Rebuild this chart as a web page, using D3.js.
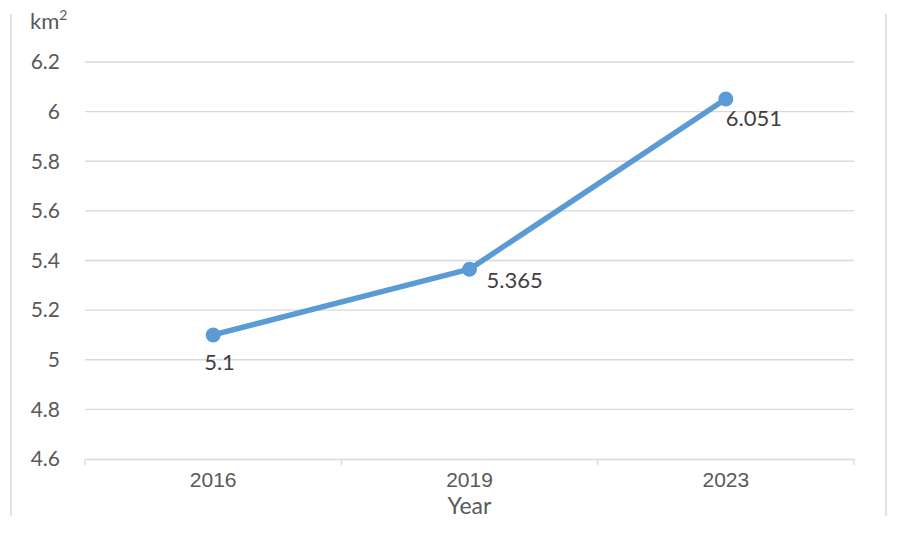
<!DOCTYPE html>
<html><head><meta charset="utf-8">
<script src="https://cdn.jsdelivr.net/npm/d3@7"></script>
<style>body{margin:0;background:#fff;}svg{display:block;font-family:Lato,"Open Sans",sans-serif;}</style>
</head><body>
<svg id="c" width="906" height="537"></svg>
<script>
const years = ["2016", "2019", "2023"];
const areas = [5.1, 5.365, 6.051];
const yTicks = [4.6, 4.8, 5, 5.2, 5.4, 5.6, 5.8, 6, 6.2];
const yUnit = "km";
const xTitle = "Year";

(function () {
const svg = d3.select("#c");
const mL = 85, mR = 854, mT = 62, mB = 459;
const x = d3.scaleBand().domain(years).range([mL, mR]);
const y = d3.scaleLinear().domain([4.6, 6.2]).range([mB, mT]);
const txt = "#595959";

// frame side lines
svg.append("line").attr("x1", 11).attr("x2", 11).attr("y1", 14).attr("y2", 516).attr("stroke", "#d9d9d9").attr("stroke-width", 1.5);
svg.append("line").attr("x1", 886).attr("x2", 886).attr("y1", 14).attr("y2", 516).attr("stroke", "#d9d9d9").attr("stroke-width", 1.5);

// gridlines
svg.append("g").selectAll("line").data(yTicks.slice(1)).join("line")
  .attr("x1", mL).attr("x2", mR)
  .attr("y1", d => y(d)).attr("y2", d => y(d))
  .attr("stroke", "#d9d9d9").attr("stroke-width", 1.3);

// y labels
svg.append("g").selectAll("text").data(yTicks).join("text")
  .attr("x", 60).attr("y", d => y(d)).attr("dy", "0.35em")
  .attr("text-anchor", "end").attr("font-size", 21).attr("fill", txt)
  .text(d => d3.format("~g")(d));

// unit
const u = svg.append("text").attr("x", 30).attr("y", 29).attr("font-size", 22).attr("fill", txt);
u.append("tspan").text(yUnit);
u.append("tspan").attr("dy", -9).attr("font-size", 14).text("2");

// x axis
const xAxis = d3.axisBottom(x).tickSize(0).tickPadding(13);
const gx = svg.append("g").attr("transform", `translate(0,${mB})`).call(xAxis);
gx.select(".domain").attr("stroke", "#d9d9d9").attr("stroke-width", 1.3);
gx.selectAll("text").attr("font-size", 21).attr("fill", txt).attr("font-family", null);
const bounds = years.map(d => x(d)).concat([mR]);
gx.selectAll(".sep").data(bounds).join("line").attr("class", "sep")
  .attr("x1", d => d).attr("x2", d => d).attr("y1", 0).attr("y2", 6)
  .attr("stroke", "#d9d9d9").attr("stroke-width", 1.3);

svg.append("text").attr("x", (mL + mR) / 2).attr("y", 514)
  .attr("text-anchor", "middle").attr("font-size", 23).attr("fill", txt).text(xTitle);

// line
const cx = d => x(d) + x.bandwidth() / 2;
const pts = years.map((yr, i) => [cx(yr), y(areas[i])]);
svg.append("path").attr("d", d3.line()(pts)).attr("fill", "none")
  .attr("stroke", "#5b9bd5").attr("stroke-width", 5.5).attr("stroke-linecap", "round").attr("stroke-linejoin", "round");
svg.append("g").selectAll("circle").data(pts).join("circle")
  .attr("cx", d => d[0]).attr("cy", d => d[1]).attr("r", 7.5).attr("fill", "#5b9bd5");

// data labels
const offs = [[-9, 35], [17, 19], [0, 27]];
svg.append("g").selectAll("text").data(areas).join("text")
  .attr("x", (d, i) => pts[i][0] + offs[i][0]).attr("y", (d, i) => pts[i][1] + offs[i][1])
  .attr("font-size", 22).attr("fill", "#404040").text(d => d);
})();
</script>
</body></html>
